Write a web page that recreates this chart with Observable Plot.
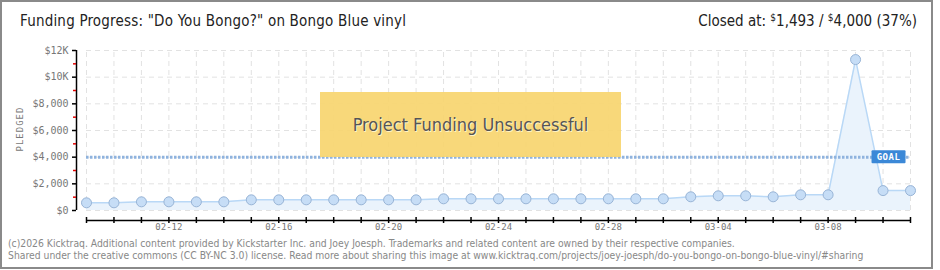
<!DOCTYPE html>
<html><head><meta charset="utf-8">
<script src="https://cdn.jsdelivr.net/npm/d3@7"></script>
<script src="https://cdn.jsdelivr.net/npm/@observablehq/plot@0.6"></script>
<style>
body{margin:0;background:#fff;}
#wrap{position:relative;width:940px;height:270px;overflow:hidden;background:#fff;}
#frame{position:absolute;left:0;top:0;width:929px;height:265px;border:2px solid #8a8a8a;}
#chart{position:absolute;left:0;top:0;}
#title{position:absolute;left:20px;top:12px;font:15px "DejaVu Sans Condensed","DejaVu Sans";letter-spacing:0.2px;color:#222;white-space:nowrap;}
#closed{position:absolute;right:23px;top:12px;font:15px "DejaVu Sans Condensed","DejaVu Sans";color:#222;white-space:nowrap;}
#closed sup{font-size:10px;vertical-align:5px;line-height:0;}
#banner{position:absolute;left:320px;top:92px;width:301px;height:65px;background:rgba(247,213,112,0.93);display:flex;align-items:center;justify-content:center;font:18px "DejaVu Sans Condensed","DejaVu Sans";color:#555;text-shadow:1px 1px 0 #fff3c8;}
#ylabel{position:absolute;left:20px;top:129px;transform:translate(-50%,-50%) rotate(-90deg);font:9px "DejaVu Sans Mono";letter-spacing:1px;color:#777;white-space:nowrap;}
.foot{position:absolute;left:8px;font:10.3px "DejaVu Sans Condensed","DejaVu Sans";color:#888;white-space:nowrap;}
</style></head><body>
<div id="wrap">
<div id="chart"></div>
<div id="banner">Project Funding Unsuccessful</div>
<div id="title">Funding Progress: "Do You Bongo?" on Bongo Blue vinyl</div>
<div id="closed">Closed at: <sup>$</sup>1,493 / <sup>$</sup>4,000 (37%)</div>
<div id="ylabel">PLEDGED</div>
<div class="foot" style="top:237px">(c)2026 Kicktraq. Additional content provided by Kickstarter Inc. and Joey Joesph. Trademarks and related content are owned by their respective companies.</div>
<div class="foot" style="top:249px">Shared under the creative commons (CC BY-NC 3.0) license. Read more about sharing this image at www.kicktraq.com/projects/joey-joesph/do-you-bongo-on-bongo-blue-vinyl/#sharing</div>
<div id="frame"></div>
</div>
<script>
const dayStrings = ["2026-02-09","2026-02-10","2026-02-11","2026-02-12","2026-02-13","2026-02-14","2026-02-15","2026-02-16","2026-02-17","2026-02-18","2026-02-19","2026-02-20","2026-02-21","2026-02-22","2026-02-23","2026-02-24","2026-02-25","2026-02-26","2026-02-27","2026-02-28","2026-03-01","2026-03-02","2026-03-03","2026-03-04","2026-03-05","2026-03-06","2026-03-07","2026-03-08","2026-03-09","2026-03-10","2026-03-11"];
const pledged = [577,577,650,650,650,650,800,800,800,800,800,800,800,877,877,877,877,877,877,877,877,877,1027,1102,1102,1027,1177,1177,11320,1493,1493];
const goal = 4000;
const yTicks = [0,2000,4000,6000,8000,10000,12000];
const yTickLabels = ["$0","$2,000","$4,000","$6,000","$8,000","$10K","$12K"];
const yMinorTicks = [1000,3000,5000,7000,9000,11000];
const xLabelDays = ["2026-02-12","2026-02-16","2026-02-20","2026-02-24","2026-02-28","2026-03-04","2026-03-08"];
const goalLabel = "GOAL";

const toDate = s => new Date(s + "T00:00:00Z");
const dates = dayStrings.map(toDate);
const xLabelDates = xLabelDays.map(toDate);
const first = dates[0], last = dates[dates.length - 1];
const data = dates.map((d, i) => ({date: d, pledged: pledged[i]}));
const fmt = d3.utcFormat("%m-%d");

const goalMark = (index, scales) => {
  const g = d3.create("svg:g");
  const cx = scales.x(dates[dates.length - 2]);
  const cy = scales.y(goal);
  g.append("rect").attr("x", cx - 11).attr("y", cy - 6.5).attr("width", 34).attr("height", 13)
    .attr("rx", 1).attr("fill", "#3b88d7");
  g.append("text").attr("x", cx + 6).attr("y", cy).attr("dy", "0.35em").attr("text-anchor", "middle")
    .attr("fill", "#fff").attr("font-family", "DejaVu Sans Mono").attr("font-size", 9).attr("font-weight", "bold")
    .attr("letter-spacing", 0.5).text(goalLabel);
  return g.node();
};

const chart = Plot.plot({
  width: 940, height: 270,
  marginLeft: 76, marginRight: 30, marginTop: 50, marginBottom: 50,
  x: {type: "utc", domain: [first, last], insetLeft: 10, label: null},
  y: {domain: [0, 12000], insetBottom: 10, label: null},
  style: {background: "transparent", overflow: "visible"},
  marks: [
    Plot.ruleY(yTicks, {x1: first, x2: last, stroke: "#e2e2e2", strokeDasharray: "5,4"}),
    Plot.ruleX(dates, {y1: 0, y2: 12000, stroke: "#e2e2e2", strokeDasharray: "5,4"}),
    Plot.areaY(data, {x: "date", y: "pledged", fill: "#eaf3fc"}),
    Plot.lineY(data, {x: "date", y: "pledged", stroke: "#b9d8f6", strokeWidth: 1.5}),
    Plot.ruleY([goal], {x1: first, x2: last, stroke: "#8fb3de", strokeWidth: 3, strokeDasharray: "2.5,1.5"}),
    Plot.dot(data, {x: "date", y: "pledged", r: 5, fill: "#c6ddf6", stroke: "#98b4d6", strokeWidth: 1}),
    Plot.ruleX([first], {y1: 0, y2: 12000, dx: -10, stroke: "#000", strokeWidth: 1.5}),
    Plot.axisY({ticks: yTicks, tickSize: 4, tickPadding: 4, label: null, tickFormat: d => yTickLabels[yTicks.indexOf(d)],
      stroke: "#000", fill: "#777", fontFamily: "DejaVu Sans Mono", fontSize: 10, strokeWidth: 1.5}),
    Plot.axisY({ticks: yMinorTicks, tickSize: 3, tickPadding: 0, label: null, tickFormat: () => "", stroke: "#e00000", strokeWidth: 1.5}),
    Plot.ruleY([0], {x1: first, x2: last, dy: 10, stroke: "#000", strokeWidth: 1.5}),
    Plot.axisX({ticks: dates, tickSize: 6, dy: -3, label: null, tickFormat: () => "", stroke: "#000", strokeWidth: 1.5}),
    Plot.axisX({ticks: xLabelDates, tickSize: 0, tickPadding: 3, label: null, tickFormat: fmt, fill: "#777", fontFamily: "DejaVu Sans Mono", fontSize: 9}),
    goalMark
  ]
});
document.getElementById("chart").appendChild(chart);
</script>
</body></html>
